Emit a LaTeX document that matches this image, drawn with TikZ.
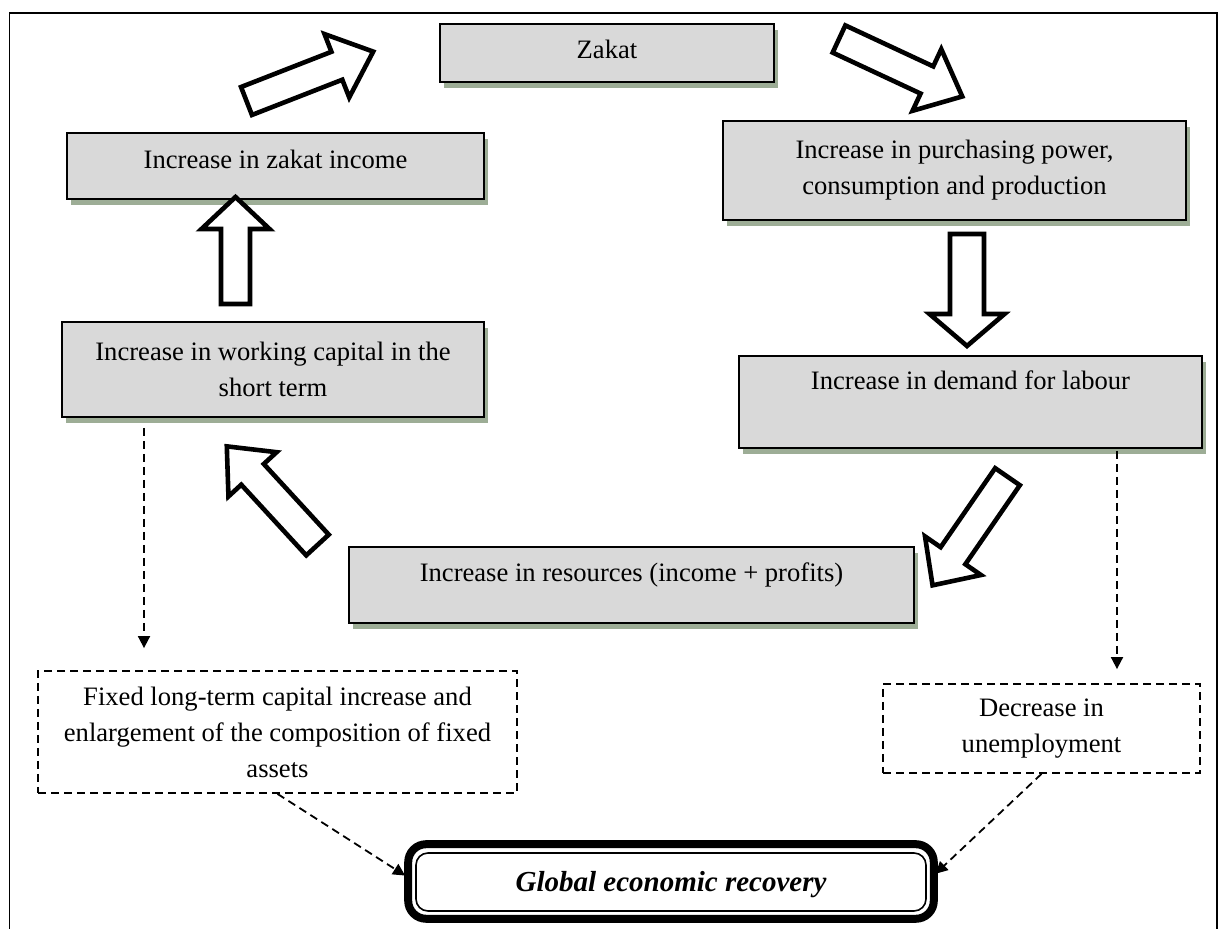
\documentclass[tikz,border=0pt]{standalone}
\usepackage{fontspec}
\setmainfont{Liberation Serif}
\usetikzlibrary{arrows.meta,shadows}
\definecolor{boxfill}{HTML}{D9D9D9}
\definecolor{shadowgreen}{HTML}{9DAD96}

% hollow block arrow: tail centre, angle, length, shaft half-width, head half-width, head length
\newcommand\blockarr[6]{%
  \draw[blockarrow, shift={(#1)}, rotate=#2]
    (0,-#4) -- ({#3-#6},-#4) -- ({#3-#6},-#5) -- (#3,0)
    -- ({#3-#6},#5) -- ({#3-#6},#4) -- (0,#4) -- cycle;}

\begin{document}
\begin{tikzpicture}[x=0.5pt,y=-0.5pt,
  every node/.style={font=\fontsize{13.3}{18}\selectfont, inner sep=0pt, align=center},
  greybox/.style={draw=black, line width=1pt, fill=boxfill,
    drop shadow={shadow xshift=2pt, shadow yshift=-3pt, fill=shadowgreen, opacity=1}},
  dashbox/.style={draw=black, line width=0.9pt, dash pattern=on 4pt off 2.5pt},
  dashconn/.style={line width=0.9pt, dash pattern=on 4pt off 2.5pt,
    -{Triangle[length=6pt,width=6pt]}},
  blockarrow/.style={draw=black, line width=2.3pt, fill=white, line join=miter}
]
\useasboundingbox (0,0) rectangle (1227,929);

% page frame
\draw[line width=0.8pt] (9.5,929) -- (9.5,13) -- (1217,13) -- (1217,929);

% cycle boxes
\node[greybox, minimum width=167pt, minimum height=29pt, text height=9pt, text depth=3pt]
  (zakat) at (607,53) {Zakat};
\node[greybox, minimum width=208.5pt, minimum height=33pt, text height=9pt, text depth=6pt]
  (zincome) at (275.5,166) {Increase in zakat income};
\node[greybox, minimum width=231.5pt, minimum height=49.5pt]
  (purch) at (954.5,170.5) {Increase in purchasing power,\\ consumption and production};
\node[greybox, minimum width=231.5pt, minimum height=46pt, text height=9pt, text depth=21pt]
  (demand) at (970.5,402) {Increase in demand for labour};
\node[greybox, minimum width=211pt, minimum height=47.5pt]
  (wc) at (273,369.5) {Increase in working capital in the\\ short term};
\node[greybox, minimum width=282.5pt, minimum height=38pt, text height=9pt, text depth=12pt]
  (res) at (631.5,585) {Increase in resources (income + profits)};

% outcome boxes
\node[dashbox, minimum width=239.5pt, minimum height=61pt]
  (fixed) at (277.5,732) {Fixed long-term capital increase and\\ enlargement of the composition of fixed\\ assets};
\node[dashbox, minimum width=158.5pt, minimum height=44.5pt]
  (decr) at (1041.5,728.5) {Decrease in\\ unemployment};
\node[draw, line width=0.8pt, rounded corners=6pt, minimum width=255pt, minimum height=29pt,
  text height=10pt, text depth=0pt,
  font=\fontsize{14.5}{18}\selectfont\bfseries\itshape]
  (global) at (671,882) {Global economic recovery};
\draw[line width=4pt, rounded corners=9pt]
  ([xshift=-3.5pt,yshift=4pt]global.north west) rectangle ([xshift=3.5pt,yshift=-3.5pt]global.south east);

% hollow arrows of the cycle
\blockarr{246.5,101}{21.3}{136}{15}{34}{39}
\blockarr{839,39}{-25}{136}{15}{34}{39}
\blockarr{967,234}{-90}{112}{17}{37.5}{32}
\blockarr{1007.5,476.7}{235.4}{132}{15}{34}{36}
\blockarr{317.5,545}{132.6}{134}{15.3}{32.7}{38}
\blockarr{235.5,304}{90}{107}{14.5}{34}{32}

% dashed connectors
\coordinate (lx) at (144,0);
\coordinate (rx) at (1117,0);
\draw[dashconn, shorten <=5pt, shorten >=11pt] (wc.south -| lx) -- (fixed.north -| lx);
\draw[dashconn, shorten <=1pt, shorten >=7pt] (demand.south -| rx) -- (decr.north -| rx);
\draw[dashconn, shorten >=6pt] (fixed.south) -- (global.west);
\draw[dashconn, shorten >=6pt] (decr.south) -- (global.east);
\end{tikzpicture}
\end{document}
